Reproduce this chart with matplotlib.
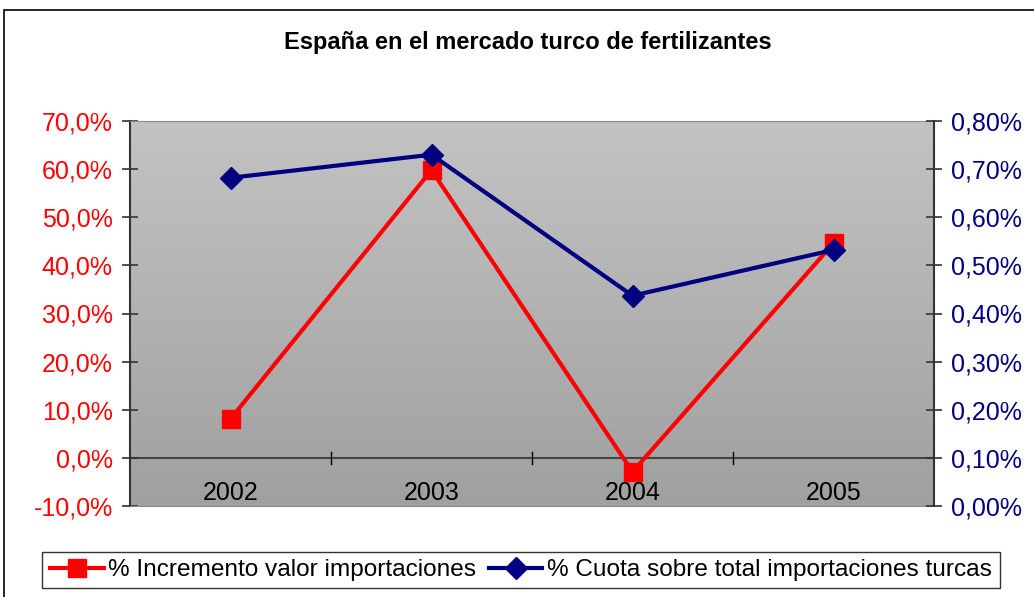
import matplotlib
matplotlib.use("Agg")
import matplotlib.pyplot as plt
import numpy as np
from matplotlib.ticker import FuncFormatter
from matplotlib.lines import Line2D
from matplotlib.patches import Rectangle
from matplotlib.colors import LinearSegmentedColormap

plt.rcParams['font.family'] = ['Liberation Sans', 'DejaVu Sans']

title = "España en el mercado turco de fertilizantes"
years = ["2002", "2003", "2004", "2005"]
incremento = [8.1, 59.8, -2.9, 44.6]          # % (left axis)
cuota = [0.682, 0.730, 0.437, 0.532]            # % (right axis)
label_inc = "% Incremento valor importaciones"
label_cuota = "% Cuota sobre total importaciones turcas"

RED = "#FF0000"
NAVY = "#000080"
FS = 18

fig = plt.figure(figsize=(10.34, 5.97), dpi=100)
W, H = 1034, 597

# outer chart border
fig.patches.append(Rectangle((4 / W, -0.1), 1.2, 1 - 10 / H + 0.1, transform=fig.transFigure,
                             fill=False, edgecolor="black", linewidth=1.2))

ax = fig.add_axes([130 / W, 1 - 506 / H, 804 / W, 385 / H])
ax.patch.set_visible(False)
grad = np.linspace(0, 1, 256).reshape(-1, 1)
cmap = LinearSegmentedColormap.from_list("g", ["#c3c3c3", "#a0a0a0"])
ax.imshow(grad, extent=[0, 1, 0, 1], transform=ax.transAxes, cmap=cmap,
          aspect="auto", zorder=-10, origin="upper")

x = np.arange(len(years))
ax.plot(x, incremento, color=RED, linewidth=3, marker="s", markersize=13,
        markeredgecolor=RED, zorder=3)
ax.set_xlim(-0.5, len(years) - 0.5)
ax.set_ylim(-10, 70)
ax.set_yticks(np.arange(-10, 71, 10))
ax.yaxis.set_major_formatter(FuncFormatter(lambda v, p: f"{v:.1f}%".replace(".", ",")))
ax.tick_params(axis="y", colors="#333333", labelcolor=RED, labelsize=FS,
               direction="inout", length=11, width=1.2, pad=7)
ax.set_xticks([])
ax.axhline(0, color="#444444", linewidth=1.5, zorder=1)
for b in np.arange(0.5, len(years) - 1, 1.0):
    ax.plot([b, b], [-1.2, 1.2], color="black", linewidth=1.0, zorder=2)
for xi, yr in zip(x, years):
    ax.text(xi, -7.3, yr, ha="center", va="center", fontsize=FS, color="black")

for s in ["top", "bottom"]:
    ax.spines[s].set_color("#8a8a8a")
ax.spines["left"].set_color("#333333")
ax.spines["left"].set_linewidth(1.5)
ax.spines["right"].set_visible(False)

ax2 = ax.twinx()
ax2.plot(x, cuota, color=NAVY, linewidth=3, marker="D", markersize=11,
         markeredgecolor=NAVY, zorder=4)
ax2.set_ylim(0, 0.8)
ax2.set_yticks(np.arange(0, 0.81, 0.1))
ax2.yaxis.set_major_formatter(FuncFormatter(lambda v, p: f"{v:.2f}%".replace(".", ",")))
ax2.tick_params(axis="y", colors="#333333", labelcolor=NAVY, labelsize=FS,
                direction="inout", length=11, width=1.2, pad=7)
for s in ["top", "bottom", "left"]:
    ax2.spines[s].set_visible(False)
ax2.spines["right"].set_color("#333333")
ax2.spines["right"].set_linewidth(1.5)

fig.text(528 / W, 1 - 43 / H, title, ha="center", va="center",
         fontsize=17, fontweight="bold")

handles = [
    Line2D([], [], color=RED, linewidth=3, marker="s", markersize=13),
    Line2D([], [], color=NAVY, linewidth=3, marker="D", markersize=11),
]
leg = fig.legend(handles, [label_inc, label_cuota], loc="center",
                 bbox_to_anchor=(521 / W, 1 - 570 / H), ncol=2, fontsize=17.6,
                 frameon=True, fancybox=False, edgecolor="black",
                 handlelength=2.2, handletextpad=0.2, columnspacing=0.5,
                 borderpad=0.3, borderaxespad=0)
leg.get_frame().set_linewidth(1.0)

fig.savefig("out.png", dpi=100)
